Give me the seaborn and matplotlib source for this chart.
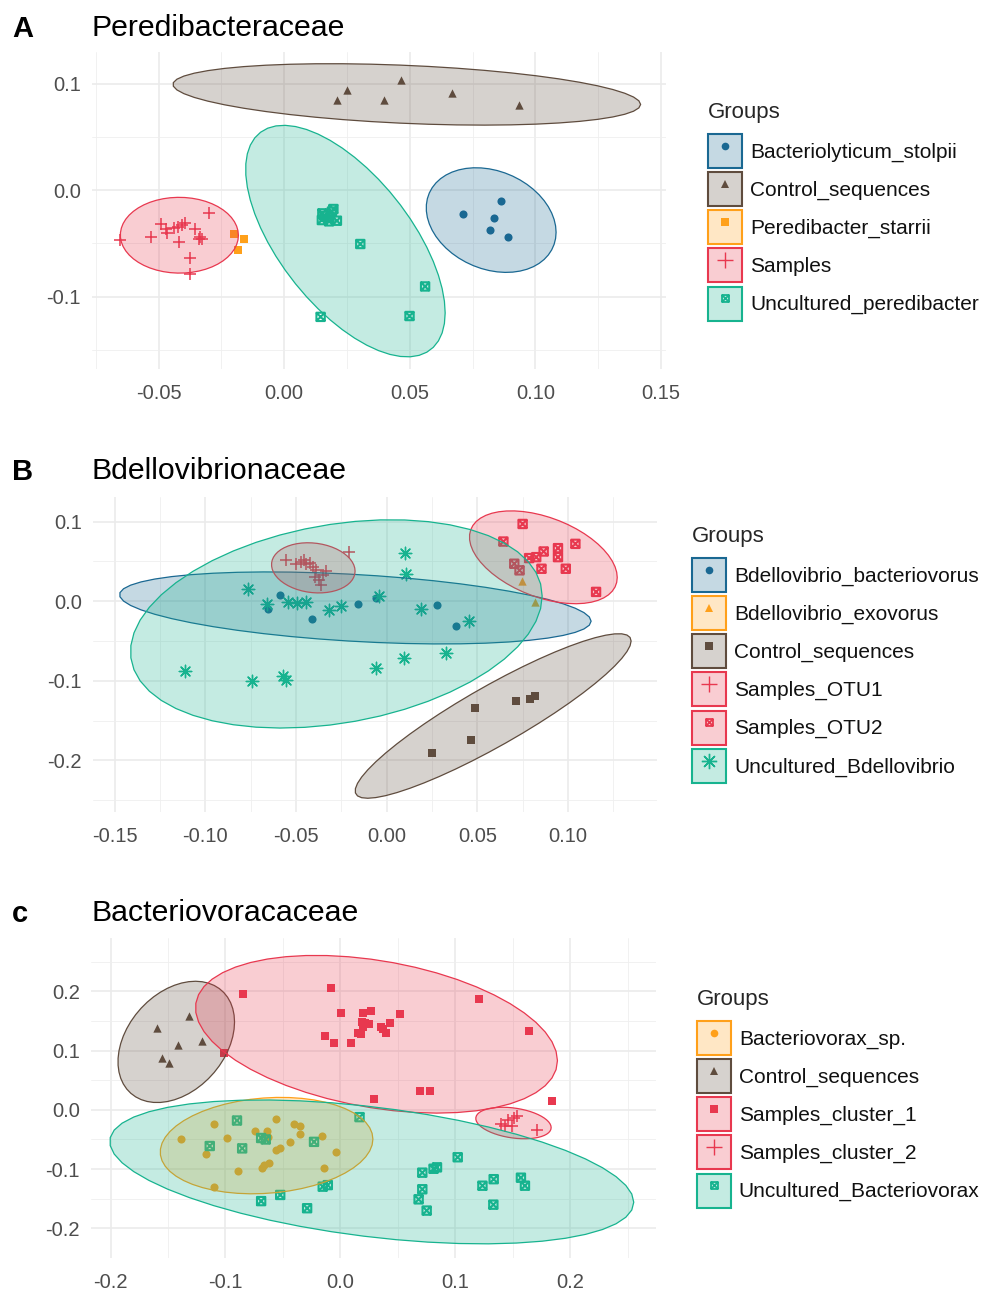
import numpy as np
import pandas as pd
import matplotlib
matplotlib.use("Agg")
import matplotlib.pyplot as plt
import seaborn as sns
from matplotlib.path import Path
from matplotlib.patches import Patch
from matplotlib.lines import Line2D
from matplotlib.colors import to_rgba
from matplotlib.ticker import MultipleLocator, FuncFormatter


# ---- colours / shapes -------------------------------------------------------
BLUE = "#1A6892"
BROWN = "#5F4C3E"
ORANGE = "#FFA01A"
RED = "#E8384F"
TEAL = "#17B38F"

# ggplot2 default shape order: 16, 17, 15, 3, 7, 8
BOXX = Path(
    [(-1, -1), (1, -1), (1, 1), (-1, 1), (-1, -1), (-1, -1), (1, 1), (-1, 1), (1, -1)],
    [Path.MOVETO, Path.LINETO, Path.LINETO, Path.LINETO, Path.CLOSEPOLY,
     Path.MOVETO, Path.LINETO, Path.MOVETO, Path.LINETO],
)
SHAPES = ["circle", "triangle", "square", "plus", "boxx", "asterisk"]

# ---- panel A: Peredibacteraceae --------------------------------------------
A_GROUPS = ["Bacteriolyticum_stolpii", "Control_sequences", "Peredibacter_starrii",
            "Samples", "Uncultured_peredibacter"]
A_COLORS = [BLUE, BROWN, ORANGE, RED, TEAL]
A_ELLIPSE = [True, True, False, True, True]
A_X = {
    "Bacteriolyticum_stolpii": [0.0710, 0.0865, 0.0837, 0.0818, 0.0890],
    "Control_sequences": [0.0212, 0.0249, 0.0399, 0.0465, 0.0667, 0.0936],
    "Peredibacter_starrii": [-0.0201, -0.0158, -0.0184],
    "Samples": [-0.0652, -0.0529, -0.0489, -0.0469, -0.0466, -0.0440, -0.0423, -0.0407,
                -0.0396, -0.0354, -0.0417, -0.0374, -0.0376, -0.0298, -0.0341, -0.0327,
                -0.0334],
    "Uncultured_peredibacter": [0.0196, 0.0152, 0.0150, 0.0179, 0.0210, 0.0160, 0.0180,
                                0.0190, 0.0303, 0.0561, 0.0499, 0.0145],
}
A_Y = {
    "Bacteriolyticum_stolpii": [-0.0226, -0.0100, -0.0262, -0.0372, -0.0440],
    "Control_sequences": [0.0852, 0.0947, 0.0852, 0.1040, 0.0914, 0.0803],
    "Peredibacter_starrii": [-0.0415, -0.0462, -0.0563],
    "Samples": [-0.0469, -0.0440, -0.0314, -0.0368, -0.0406, -0.0352, -0.0343, -0.0330,
                -0.0311, -0.0368, -0.0487, -0.0635, -0.0786, -0.0217, -0.0456, -0.0462,
                -0.0437],
    "Uncultured_peredibacter": [-0.0176, -0.0217, -0.0280, -0.0292, -0.0286, -0.0240, -0.0260,
                                -0.0200, -0.0505, -0.0904, -0.1182, -0.1190],
}

# ---- panel B: Bdellovibrionaceae -------------------------------------------
B_GROUPS = ["Bdellovibrio_bacteriovorus", "Bdellovibrio_exovorus", "Control_sequences",
            "Samples_OTU1", "Samples_OTU2", "Uncultured_Bdellovibrio"]
B_COLORS = [BLUE, ORANGE, BROWN, RED, RED, TEAL]
B_ELLIPSE = [True, True, True, True, True, True]
B_X = {
    "Bdellovibrio_bacteriovorus": [-0.0590, -0.0653, -0.0414, -0.0159, -0.0058, 0.0278, 0.0381],
    "Bdellovibrio_exovorus": [0.0744, 0.0817],
    "Control_sequences": [0.0247, 0.0466, 0.0486, 0.0712, 0.0791, 0.0816],
    "Samples_OTU1": [-0.0554, -0.0499, -0.0475, -0.0456, -0.0443, -0.0425, -0.0406, -0.0388,
                     -0.0397, -0.0375, -0.0364, -0.0351, -0.0333, -0.0207],
    "Samples_OTU2": [0.0749, 0.0643, 0.0703, 0.0732, 0.0785, 0.0824, 0.0865, 0.0944, 0.0944,
                     0.1040, 0.0853, 0.0987, 0.1154],
    "Uncultured_Bdellovibrio": [-0.0766, -0.0660, -0.0544, -0.0496, -0.0448, -0.0316, -0.0250,
                                -0.0043, 0.0099, 0.0106, 0.0190, 0.0455, 0.0328, 0.0096,
                                -0.0058, -0.1110, -0.0742, -0.0573, -0.0556],
}
B_Y = {
    "Bdellovibrio_bacteriovorus": [0.0083, -0.0092, -0.0229, -0.0035, 0.0043, -0.0052, -0.0310],
    "Bdellovibrio_exovorus": [0.0257, -0.0008],
    "Control_sequences": [-0.1908, -0.1740, -0.1340, -0.1254, -0.1225, -0.1190],
    "Samples_OTU1": [0.0523, 0.0464, 0.0494, 0.0514, 0.0473, 0.0481, 0.0431, 0.0397, 0.0305,
                     0.0263, 0.0201, 0.0326, 0.0380, 0.0619],
    "Samples_OTU2": [0.0971, 0.0750, 0.0471, 0.0388, 0.0542, 0.0554, 0.0625, 0.0667, 0.0554,
                     0.0721, 0.0408, 0.0408, 0.0117],
    "Uncultured_Bdellovibrio": [0.0158, -0.0038, -0.0008, -0.0017, -0.0008, -0.0113, -0.0063,
                                0.0067, 0.0608, 0.0346, -0.0092, -0.0246, -0.0646, -0.0708,
                                -0.0842, -0.0875, -0.1008, -0.0946, -0.0988],
}

# ---- panel C: Bacteriovoracaceae -------------------------------------------
C_GROUPS = ["Bacteriovorax_sp.", "Control_sequences", "Samples_cluster_1",
            "Samples_cluster_2", "Uncultured_Bacteriovorax"]
C_COLORS = [ORANGE, BROWN, RED, RED, TEAL]
C_ELLIPSE = [True, True, True, True, True]
C_X = {
    "Bacteriovorax_sp.": [-0.1391, -0.1096, -0.0991, -0.1168, -0.0893, -0.1096, -0.0745, -0.0643,
                          -0.0632, -0.0557, -0.0406, -0.0348, -0.0348, -0.0441, -0.0557, -0.0522,
                          -0.0159, -0.0037, -0.0145, -0.0681, -0.0623, -0.0661],
    "Control_sequences": [-0.1315, -0.1594, -0.1410, -0.1204, -0.1555, -0.1492],
    "Samples_cluster_1": [-0.0846, -0.0081, 0.0006, 0.0197, 0.0267, 0.0189, 0.0217, 0.0522,
                          0.0429, 0.0371, 0.0400, 0.0180, -0.0137, -0.0058, 0.0093, 0.1209,
                          0.1637, -0.1009, 0.0696, 0.0777, 0.0296, 0.1841, 0.0200, 0.0250,
                          0.0350, 0.0150],
    "Samples_cluster_2": [0.1397, 0.1454, 0.1510, 0.1540, 0.1490, 0.1435, 0.1710],
    "Uncultured_Bacteriovorax": [-0.0900, -0.1137, -0.0855, -0.0690, -0.0650, -0.0230, 0.0166,
                                 -0.0524, -0.0690, -0.0290, -0.0154, -0.0110, 0.1020, 0.0810,
                                 0.0712, 0.0712, 0.0680, 0.0750, 0.1235, 0.1333, 0.1330,
                                 0.1570, 0.1605, 0.0840],
}
C_Y = {
    "Bacteriovorax_sp.": [-0.0495, -0.0236, -0.0467, -0.0748, -0.1030, -0.1294, -0.0354, -0.0354,
                          -0.0450, -0.0152, -0.0236, -0.0270, -0.0410, -0.0535, -0.0675, -0.0636,
                          -0.0439, -0.0704, -0.0984, -0.0984, -0.0889, -0.0928],
    "Control_sequences": [0.1590, 0.1373, 0.1089, 0.1165, 0.0867, 0.0796],
    "Samples_cluster_1": [0.1958, 0.2054, 0.1642, 0.1632, 0.1671, 0.1490, 0.1463, 0.1615,
                          0.1473, 0.1362, 0.1305, 0.1283, 0.1249, 0.1126, 0.1126, 0.1878,
                          0.1338, 0.0957, 0.0326, 0.0326, 0.0191, 0.0157, 0.1400, 0.1450,
                          0.1400, 0.1300],
    "Samples_cluster_2": [-0.0235, -0.0179, -0.0134, -0.0112, -0.0279, -0.0280, -0.0335],
    "Uncultured_Bacteriovorax": [-0.0180, -0.0610, -0.0650, -0.0475, -0.0500, -0.0540, -0.0123,
                                 -0.1436, -0.1540, -0.1660, -0.1296, -0.1270, -0.0800, -0.0994,
                                 -0.1060, -0.1340, -0.1510, -0.1700, -0.1280, -0.1170, -0.1600,
                                 -0.1145, -0.1280, -0.0970],
}


def ellipse_path(x, y, level=0.95, segments=51):
    # same maths as ggplot2::stat_ellipse(type = "norm")
    xy = np.column_stack([x, y])
    n = len(xy)
    center = xy.mean(axis=0)
    shape = np.cov(xy, rowvar=False)
    dfd = n - 1
    f = dfd / 2 * ((1 - level) ** (-2 / dfd) - 1)  # qf(level, 2, dfd)
    radius = np.sqrt(2 * f)
    ang = np.arange(segments + 1) * 2 * np.pi / segments
    circle = np.column_stack([np.cos(ang), np.sin(ang)])
    L = np.linalg.cholesky(shape)
    ell = center + radius * circle @ L.T
    return ell[:, 0], ell[:, 1]


def point_kw(shape, color):
    if shape == "circle":
        return dict(marker="o", s=34, color=color, edgecolor=color, linewidth=0)
    if shape == "triangle":
        return dict(marker="^", s=36, color=color, edgecolor=color, linewidth=0)
    if shape == "square":
        return dict(marker="s", s=32, color=color, edgecolor=color, linewidth=0)
    if shape == "plus":
        return dict(marker="+", s=80, color=color, linewidth=1.1)
    if shape == "asterisk":
        return dict(marker=(8, 2, 0), s=80, color=color, linewidth=1.0)
    return dict(marker=BOXX, s=36, color=color, facecolor="none", edgecolor=color, linewidth=1.5)


def legend_marker(shape, color):
    base = dict(linestyle="none", color=color)
    if shape == "circle":
        return Line2D([], [], marker="o", markersize=5.5, markeredgewidth=0, **base)
    if shape == "triangle":
        return Line2D([], [], marker="^", markersize=5.5, markeredgewidth=0, **base)
    if shape == "square":
        return Line2D([], [], marker="s", markersize=5.5, markeredgewidth=0, **base)
    if shape == "plus":
        return Line2D([], [], marker="+", markersize=11, markeredgewidth=1.0, **base)
    if shape == "asterisk":
        return Line2D([], [], marker=(8, 2, 0), markersize=11, markeredgewidth=1.0, **base)
    return Line2D([], [], marker=BOXX, markersize=5, markerfacecolor="none",
                  markeredgewidth=1.3, **base)


def fmt(decimals):
    return FuncFormatter(lambda v, _: f"{round(v, decimals) + 0:.{decimals}f}")


def draw_panel(fig, rect, groups, colors, flags, xs, ys, xlim, ylim, xstep, ystep,
               xdec, ydec, letter, title, title_y, legend_anchor):
    ax = fig.add_axes(rect)
    ax.set_axisbelow(True)

    for i, g in enumerate(groups):
        df = pd.DataFrame({"PC1": xs[g], "PC2": ys[g]})
        sns.scatterplot(data=df, x="PC1", y="PC2", ax=ax, legend=False, zorder=2,
                        **point_kw(SHAPES[i], colors[i]))

    # ellipses sit on top of the points, like the ggplot layer order
    for i, g in enumerate(groups):
        if not flags[i] or len(xs[g]) < 3:
            continue
        ex, ey = ellipse_path(np.array(xs[g]), np.array(ys[g]))
        ax.fill(ex, ey, facecolor=to_rgba(colors[i], 0.25), edgecolor=colors[i],
                linewidth=0.9, zorder=3)

    ax.set_xlim(*xlim)
    ax.set_ylim(*ylim)
    ax.xaxis.set_major_locator(MultipleLocator(xstep))
    ax.xaxis.set_minor_locator(MultipleLocator(xstep / 2))
    ax.yaxis.set_major_locator(MultipleLocator(ystep))
    ax.yaxis.set_minor_locator(MultipleLocator(ystep / 2))
    ax.xaxis.set_major_formatter(fmt(xdec))
    ax.yaxis.set_major_formatter(fmt(ydec))
    ax.grid(which="major", color="#EBEBEB", linewidth=1.2)
    ax.grid(which="minor", color="#EFEFEF", linewidth=0.6)
    ax.tick_params(which="both", length=0, labelsize=14.5, labelcolor="#4D4D4D")
    ax.tick_params(axis="x", pad=11)
    ax.tick_params(axis="y", pad=8)
    ax.set_xlabel("")
    ax.set_ylabel("")
    for s in ax.spines.values():
        s.set_visible(False)

    W, H = fig.get_size_inches() * fig.dpi
    fig.text(12 / W, 1 - (title_y + 1) / H, letter, fontsize=21, fontweight="bold",
             va="center", ha="left", color="black")
    fig.text(92 / W, 1 - title_y / H, title, fontsize=21.8, va="center", ha="left",
             color="black")

    handles = []
    for i, g in enumerate(groups):
        box = Patch(facecolor=to_rgba(colors[i], 0.25), edgecolor=colors[i], linewidth=1.5)
        handles.append((box, legend_marker(SHAPES[i], colors[i])))
    leg = fig.legend(handles, groups, loc="upper left",
                     bbox_to_anchor=(legend_anchor[0] / W, 1 - legend_anchor[1] / H),
                     frameon=False, title="Groups", title_fontsize=16, fontsize=15,
                     handlelength=1.63, handleheight=2.135, labelspacing=0.2,
                     handletextpad=0.38, borderpad=0, borderaxespad=0)
    leg._legend_box.align = "left"
    leg._legend_box.sep = 7.8  # a bit more room under the "Groups" title
    for t in leg.get_texts():
        t.set_color("#111111")
    return ax


sns.set_style("white")
plt.rcParams["font.family"] = ["Liberation Sans", "DejaVu Sans"]

fig = plt.figure(figsize=(9.83, 12.9), dpi=100)
W, H = 983, 1290


def rect(left, right, top, bottom):
    return [left / W, 1 - bottom / H, (right - left) / W, (bottom - top) / H]


draw_panel(fig, rect(92, 666, 52, 369), A_GROUPS, A_COLORS, A_ELLIPSE, A_X, A_Y,
           (-0.0765, 0.152), (-0.168, 0.130), 0.05, 0.1, 2, 1,
           "A", "Peredibacteraceae", 28, (708, 102))
draw_panel(fig, rect(93, 657, 497, 812), B_GROUPS, B_COLORS, B_ELLIPSE, B_X, B_Y,
           (-0.162, 0.149), (-0.265, 0.131), 0.05, 0.1, 2, 1,
           "B", "Bdellovibrionaceae", 471, (692, 526))
draw_panel(fig, rect(91, 656, 938, 1258), C_GROUPS, C_COLORS, C_ELLIPSE, C_X, C_Y,
           (-0.217, 0.2745), (-0.25, 0.29), 0.1, 0.1, 1, 1,
           "c", "Bacteriovoracaceae", 913, (697, 989))

fig.savefig("out.png", dpi=100)
